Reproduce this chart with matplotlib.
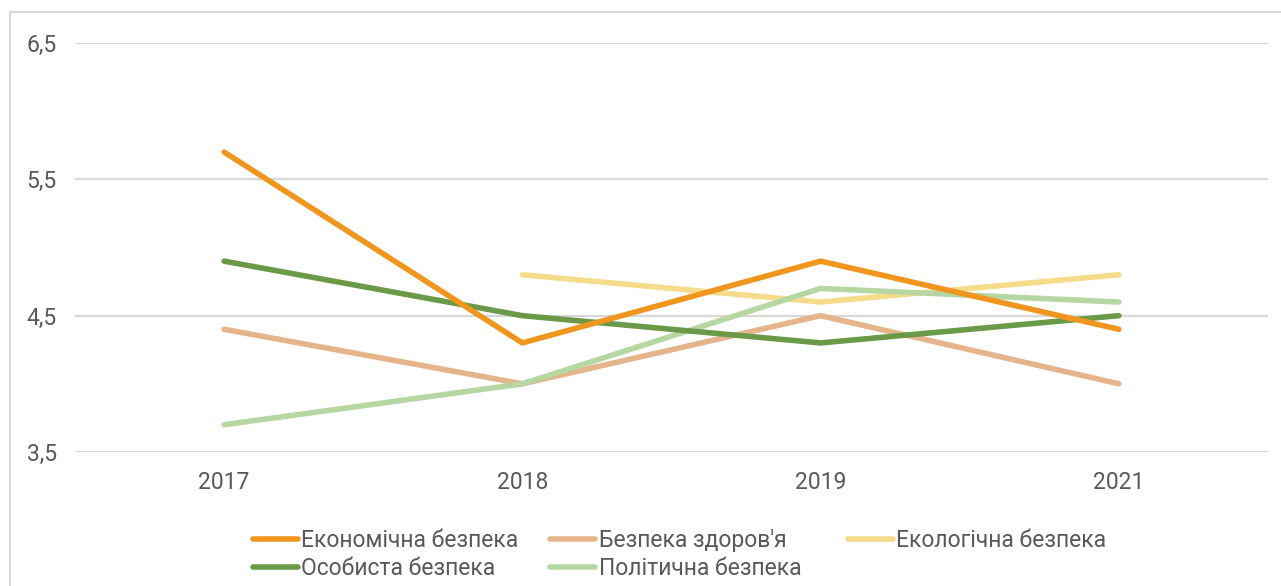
import matplotlib.pyplot as plt
from matplotlib.patches import Rectangle
import numpy as np

plt.rcParams['font.family'] = ['Roboto', 'DejaVu Sans']

years = ['2017', '2018', '2019', '2021']
econ = [5.7, 4.3, 4.9, 4.4]
health = [4.4, 4.0, 4.5, 4.0]
ecology = [np.nan, 4.8, 4.6, 4.8]
personal = [4.9, 4.5, 4.3, 4.5]
politics = [3.7, 4.0, 4.7, 4.6]

series = [
    ('Економічна безпека', econ, '#F0961E'),
    ('Особиста безпека', personal, '#6A9A48'),
    ("Безпека здоров'я", health, '#E6B48A'),
    ('Політична безпека', politics, '#B6D7A2'),
    ('Екологічна безпека', ecology, '#F6DC8A'),
]
# drawing order (front to back as in the reference)
draw_order = [4, 2, 3, 1, 0]

W, H = 1281, 586
fig = plt.figure(figsize=(W / 100, H / 100), dpi=100)
ax = fig.add_axes([75 / W, 1 - 452 / H, (1268 - 75) / W, (452 - 43) / H])

x = np.arange(len(years))
lines = {}
for i in draw_order:
    name, vals, col = series[i]
    ln, = ax.plot(x, vals, color=col, linewidth=4, solid_capstyle='round', label=name)
    lines[i] = ln

ax.set_xlim(-0.5, len(years) - 0.5)
ax.set_ylim(3.5, 6.5)
ax.set_yticks([3.5, 4.5, 5.5, 6.5])
ax.set_yticklabels(['3,5', '4,5', '5,5', '6,5'])
ax.set_xticks(x)
ax.set_xticklabels(years)
ax.grid(axis='y', color='#D9D9D9', linewidth=1.6)
ax.set_axisbelow(True)
for s in ax.spines.values():
    s.set_visible(False)
ax.tick_params(length=0, labelsize=16.5, labelcolor='#595959')
ax.tick_params(axis='y', pad=13)
ax.tick_params(axis='x', pad=14)

leg_kw = dict(loc='upper left', frameon=False, fontsize=16.5, handlelength=1.95,
              handletextpad=0.15, borderaxespad=0, borderpad=0, labelspacing=0.22)
leg1 = fig.legend([lines[i] for i in range(4)], [series[i][0] for i in range(4)],
                  ncol=2, bbox_to_anchor=(253 / W, 1 - 529 / H),
                  columnspacing=1.4, **leg_kw)
leg2 = fig.legend([lines[4]], [series[4][0]],
                  bbox_to_anchor=(848 / W, 1 - 529 / H), **leg_kw)
for leg in (leg1, leg2):
    for t in leg.get_texts():
        t.set_color('#595959')

fig.patches.append(Rectangle((10 / W, -0.05), 1.2, 1 - 12 / H + 0.05,
                             transform=fig.transFigure, fill=False,
                             edgecolor='#D9D9D9', linewidth=1.5))

fig.savefig('out.png', dpi=100)
